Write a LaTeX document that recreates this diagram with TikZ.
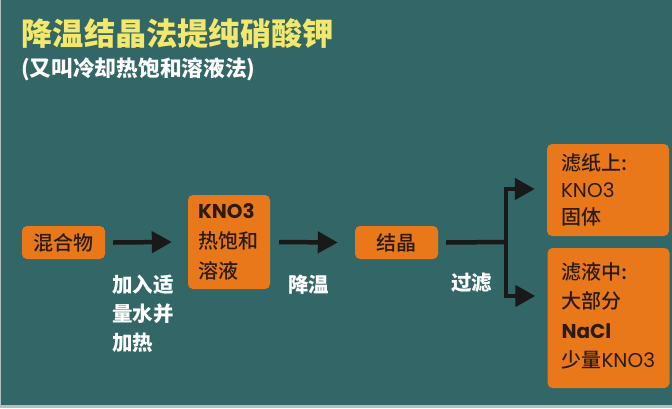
\documentclass[tikz,border=0pt]{standalone}
\usepackage{fontspec}
\setmainfont{Noto Sans CJK SC}
\newfontfamily\cjkm{Noto Sans CJK SC Medium}
\newfontfamily\lat{Poppins}
\usetikzlibrary{arrows.meta}
\definecolor{bg}{HTML}{336666}
\definecolor{org}{HTML}{E8781A}
\definecolor{ink}{HTML}{2A1C12}
\definecolor{ttl}{HTML}{F4E86C}
\definecolor{edge}{HTML}{AFC2C1}
\begin{document}
\begin{tikzpicture}[x=1pt,y=-1pt,
  box/.style={fill=org, rounded corners=5pt, inner sep=0pt},
  btext/.style={text=ink, align=left, inner sep=0pt, font=\fontsize{20}{#1}\selectfont\cjkm},
  btext/.default=29,
  lbl/.style={text=white, align=left, inner sep=0pt, font=\fontsize{20.5}{29}\selectfont\bfseries},
  ln/.style={line width=4.5pt, draw=black!90},
  ar/.style={ln, -{Triangle[length=20pt,width=21pt]}}]
\fill[bg] (0,0) rectangle (672,408);
\fill[edge] (0,405) rectangle (672,408);
\fill[edge] (0,0) rectangle (1,408);
% titles
\node[anchor=base west, inner sep=0pt, text=ttl, font=\fontsize{31.2}{31}\selectfont\bfseries] (title) at (21.5,45) {降温结晶法提纯硝酸钾};
\node[anchor=base west, inner sep=0pt, text=white, font=\fontsize{21.7}{22}\selectfont\bfseries] (sub) at (21,76) {(又叫冷却热饱和溶液法)};
% boxes
\node[box, minimum width=83pt, minimum height=33pt, text=ink, font=\fontsize{20}{24}\selectfont\cjkm] (m) at (63.5,242.5) {混合物};
\node[box, minimum width=82pt, minimum height=94pt] (k) at (229,242) {};
\node[btext=30, anchor=west] (kt) at ([xshift=10pt]k.west) {{\lat\bfseries KNO3}\\热饱和\\溶液};
\node[box, minimum width=83pt, minimum height=33pt, text=ink, font=\fontsize{20}{24}\selectfont\cjkm] (jj) at (396.5,242.5) {结晶};
\node[box, minimum width=122pt, minimum height=92pt] (b4) at (608,190) {};
\node[btext=27, anchor=west] (b4t) at ([xshift=14pt]b4.west) {滤纸上:\\{\lat KNO3}\\固体};
\node[box, minimum width=122pt, minimum height=140pt] (b5) at (608.5,318) {};
\node[btext=29.5, anchor=west] (b5t) at ([xshift=14pt,yshift=2pt]b5.west) {滤液中:\\大部分\\{\lat\bfseries NaCl}\\少量{\lat KNO3}};
% labels
\node[lbl, anchor=west] (l1) at (112,314) {加入适\\量水并\\加热};
\node[lbl, anchor=west] (l2) at (288,285) {降温};
\node[lbl, anchor=west] (l3) at (451,283) {过滤};
% connectors
\draw[ar] ([xshift=8pt]m.east) -- ([xshift=-16pt]k.west);
\draw[ar] ([xshift=9pt]k.east) -- ([xshift=-17pt]jj.west);
\coordinate (sp) at (506,242);
\draw[ln] ([xshift=8pt]jj.east) -- (sp);
\draw[ar] (sp) |- ([xshift=-12pt,yshift=1pt]b4.west);
\draw[ar] (sp) |- ([xshift=-12pt,yshift=22pt]b5.west);
\end{tikzpicture}
\end{document}
